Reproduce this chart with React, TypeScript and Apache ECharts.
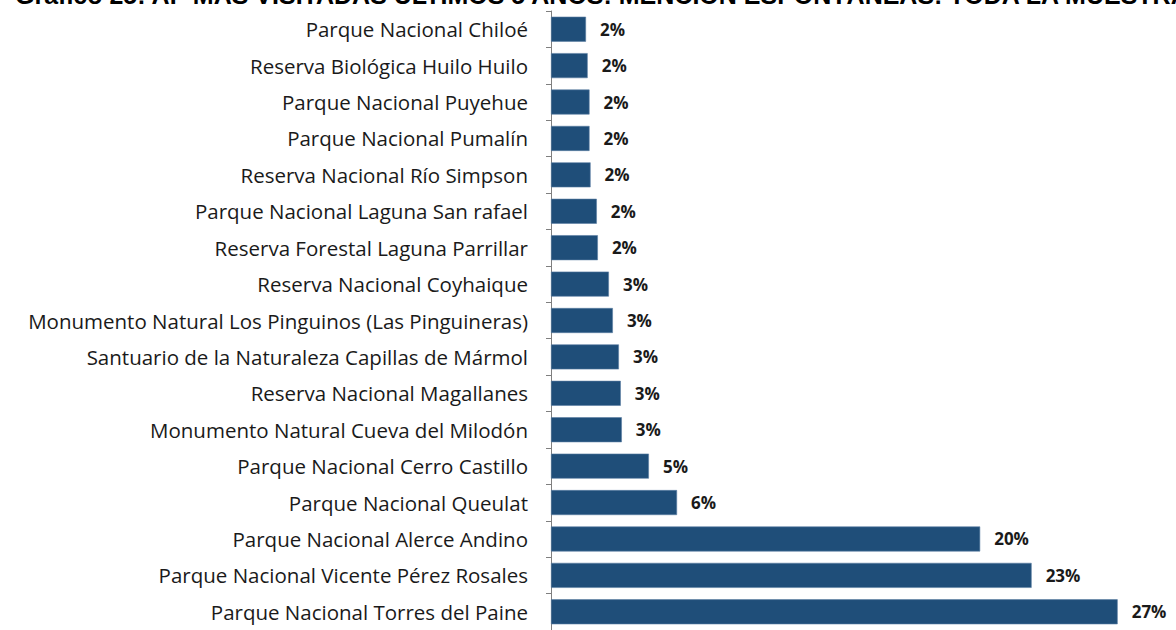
import React, { useEffect, useRef } from "react";
import * as echarts from "echarts";

const titleText = "Gráfico 25: AP MÁS VISITADAS ÚLTIMOS 5 AÑOS: MENCIÓN ESPONTÁNEAS: TODA LA MUESTRA";

const categories = [
  "Parque Nacional Chiloé",
  "Reserva Biológica Huilo Huilo",
  "Parque Nacional Puyehue",
  "Parque Nacional Pumalín",
  "Reserva Nacional Río Simpson",
  "Parque Nacional Laguna San rafael",
  "Reserva Forestal Laguna Parrillar",
  "Reserva Nacional Coyhaique",
  "Monumento Natural Los Pinguinos (Las Pinguineras)",
  "Santuario de la Naturaleza Capillas de Mármol",
  "Reserva Nacional Magallanes",
  "Monumento Natural Cueva del Milodón",
  "Parque Nacional Cerro Castillo",
  "Parque Nacional Queulat",
  "Parque Nacional Alerce Andino",
  "Parque Nacional Vicente Pérez Rosales",
  "Parque Nacional Torres del Paine",
];

const values = [
  1.68, 1.76, 1.85, 1.85, 1.9, 2.2, 2.25, 2.78, 2.97, 3.26, 3.35, 3.4, 4.7, 6.05, 20.6, 23.07, 27.2,
];

const valueLabels = [
  "2%", "2%", "2%", "2%", "2%", "2%", "2%", "3%", "3%", "3%", "3%", "3%", "5%", "6%", "20%", "23%", "27%",
];

export default function App() {
  const ref = useRef<HTMLDivElement>(null);
  useEffect(() => {
    if (!ref.current) return;
    const chart = echarts.init(ref.current, null, { renderer: "svg" });
    chart.setOption({
      animation: false,
      backgroundColor: "#ffffff",
      graphic: [
        {
          type: "text",
          x: 15,
          y: -5,
          style: {
            text: titleText,
            font: "bold 25px 'Liberation Sans', Arial, sans-serif",
            fill: "#000000",
            verticalAlign: "middle",
          },
        },
      ],
      grid: { left: 551, right: 0, top: 11, bottom: -5, containLabel: false },
      xAxis: {
        type: "value",
        min: 0,
        max: 30,
        show: false,
        splitLine: { show: false },
      },
      yAxis: {
        type: "category",
        inverse: true,
        data: categories,
        axisLine: { show: true, lineStyle: { color: "#7f7f7f", width: 1 } },
        axisTick: { show: true, length: 5, lineStyle: { color: "#7f7f7f" } },
        axisLabel: {
          margin: 23,
          fontSize: 20.5,
          fontFamily: "'Open Sans', sans-serif",
          color: "#1a1a1a",
        },
      },
      series: [
        {
          type: "bar",
          data: values,
          barWidth: 25,
          itemStyle: { color: "#1f4e79", borderColor: "#5a7ea3", borderWidth: 0.6 },
          label: {
            show: true,
            position: "right",
            distance: 14,
            formatter: (p: any) => valueLabels[p.dataIndex],
            fontSize: 17,
            fontWeight: "bold",
            fontFamily: "'Open Sans', sans-serif",
            color: "#1a1a1a",
          },
        },
      ],
    });
    return () => chart.dispose();
  }, []);
  return (
    <div
      ref={ref}
      style={{ position: "fixed", left: 0, top: 0, width: 1176, height: 630 }}
    />
  );
}
